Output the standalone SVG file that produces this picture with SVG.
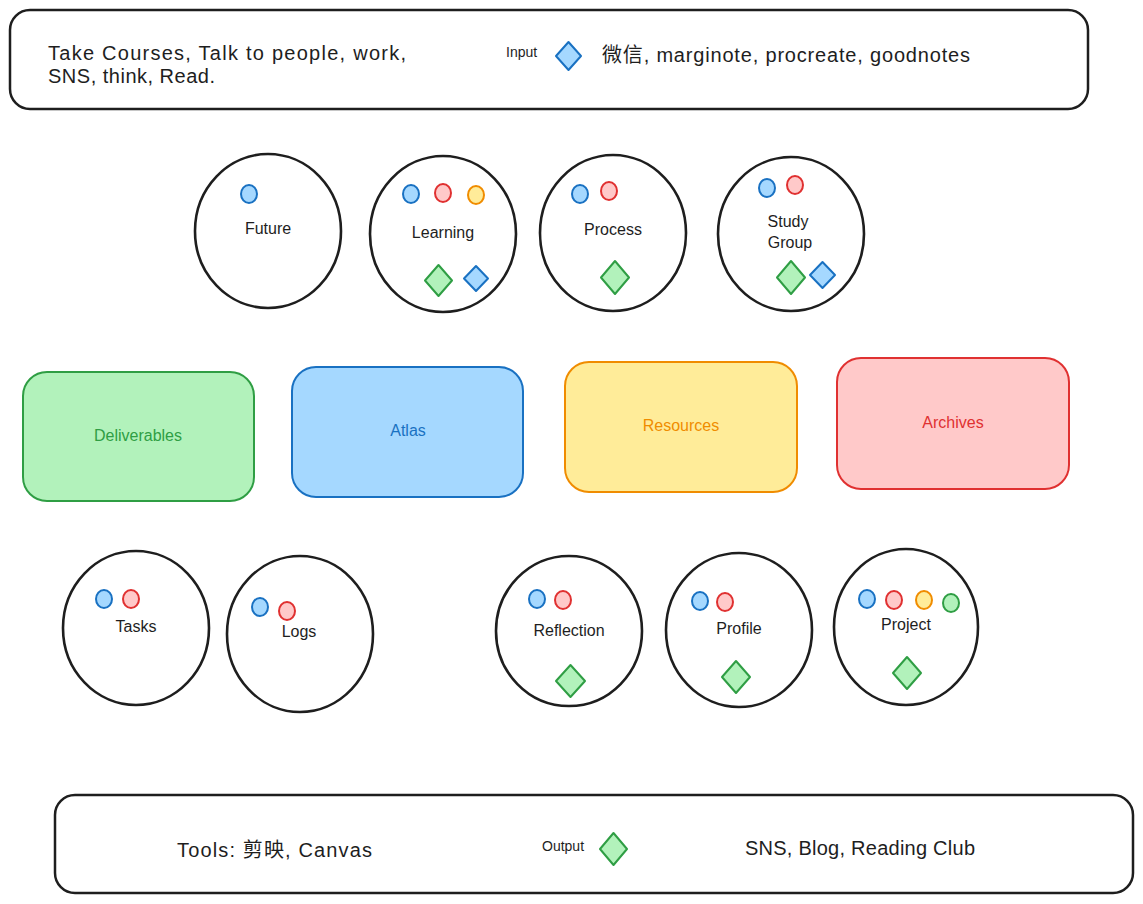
<svg xmlns="http://www.w3.org/2000/svg" width="1143" height="904" viewBox="0 0 1143 904">
<style>
.bg{fill:#ffffff}
.frame{fill:#ffffff;stroke:#1e1e1e;stroke-width:2.5}
.circ{fill:#ffffff;stroke:#1e1e1e;stroke-width:2.6}
.t{font-family:"Liberation Sans","Noto Sans CJK SC",sans-serif;fill:#1e1e1e}
.big{font-size:20px}
.lbl{font-size:16px;text-anchor:middle}
.sm{font-size:14px}
.rl{font-size:16px;text-anchor:middle}
.dB{fill:#a5d8ff;stroke:#1971c2;stroke-width:2}
.dR{fill:#ffc9c9;stroke:#e03131;stroke-width:2}
.dY{fill:#ffec99;stroke:#f08c00;stroke-width:2}
.dG{fill:#b2f2bb;stroke:#2f9e44;stroke-width:2}
.dia{stroke-linejoin:round}
</style>
<rect class="bg" x="0" y="0" width="1143" height="904"/>

<g id="input-bar">
<rect class="frame" x="10" y="10" width="1078" height="99" rx="20"/>
<text class="t big" x="48" y="60" textLength="358">Take Courses, Talk to people, work,</text>
<text class="t big" x="48" y="83" textLength="167">SNS, think, Read.</text>
<text class="t sm" x="506" y="57">Input</text>
<path class="dB dia" d="M568.5,42 L581,56 L568.5,70 L556,56 Z"/>
<text class="t big" x="602" y="62" textLength="368">微信, marginote, procreate, goodnotes</text>
</g>

<g id="future">
<ellipse class="circ" cx="268" cy="231" rx="73" ry="77"/>
<ellipse class="dB" cx="249" cy="194" rx="8" ry="9"/>
<text class="t lbl" x="268" y="234">Future</text>
</g>

<g id="learning">
<ellipse class="circ" cx="443" cy="234" rx="73" ry="78"/>
<ellipse class="dB" cx="411" cy="194" rx="8" ry="9"/>
<ellipse class="dR" cx="443" cy="193" rx="8" ry="9"/>
<ellipse class="dY" cx="476" cy="195" rx="8" ry="9"/>
<text class="t lbl" x="443" y="238">Learning</text>
<path class="dG dia" d="M438.5,265 L452,280.5 L438.5,296 L425,280.5 Z"/>
<path class="dB dia" d="M476,266 L488,278.5 L476,291 L464,278.5 Z"/>
</g>

<g id="process">
<ellipse class="circ" cx="613" cy="233" rx="73" ry="78"/>
<ellipse class="dB" cx="580" cy="194" rx="8" ry="9"/>
<ellipse class="dR" cx="609" cy="191" rx="8" ry="9"/>
<text class="t lbl" x="613" y="235">Process</text>
<path class="dG dia" d="M615,261 L629,277.5 L615,294 L601,277.5 Z"/>
</g>

<g id="study-group">
<ellipse class="circ" cx="791" cy="234" rx="73" ry="77"/>
<ellipse class="dB" cx="767" cy="188" rx="8" ry="9"/>
<ellipse class="dR" cx="795" cy="185" rx="8" ry="9"/>
<text class="t lbl" x="788" y="227">Study</text>
<text class="t lbl" x="790" y="248">Group</text>
<path class="dG dia" d="M791,261 L805,277.5 L791,294 L777,277.5 Z"/>
<path class="dB dia" d="M822.5,262 L835,275 L822.5,288 L810,275 Z"/>
</g>

<g id="deliverables">
<rect class="dG" x="23" y="372" width="231" height="129" rx="24" stroke-width="2.5"/>
<text class="t rl" x="138" y="441" style="fill:#2f9e44">Deliverables</text>
</g>

<g id="atlas">
<rect class="dB" x="292" y="367" width="231" height="130" rx="24" stroke-width="2.5"/>
<text class="t rl" x="408" y="436" style="fill:#1971c2">Atlas</text>
</g>

<g id="resources">
<rect class="dY" x="565" y="362" width="232" height="130" rx="24" stroke-width="2.5"/>
<text class="t rl" x="681" y="431" style="fill:#f08c00">Resources</text>
</g>

<g id="archives">
<rect class="dR" x="837" y="358" width="232" height="131" rx="24" stroke-width="2.5"/>
<text class="t rl" x="953" y="428" style="fill:#e03131">Archives</text>
</g>

<g id="tasks">
<ellipse class="circ" cx="136" cy="628" rx="73" ry="77"/>
<ellipse class="dB" cx="104" cy="599" rx="8" ry="9"/>
<ellipse class="dR" cx="131" cy="599" rx="8" ry="9"/>
<text class="t lbl" x="136" y="632">Tasks</text>
</g>

<g id="logs">
<ellipse class="circ" cx="300" cy="634" rx="73" ry="78"/>
<ellipse class="dB" cx="260" cy="607" rx="8" ry="9"/>
<ellipse class="dR" cx="287" cy="611" rx="8" ry="9"/>
<text class="t lbl" x="299" y="637">Logs</text>
</g>

<g id="reflection">
<ellipse class="circ" cx="569" cy="631" rx="73" ry="75"/>
<ellipse class="dB" cx="537" cy="599" rx="8" ry="9"/>
<ellipse class="dR" cx="563" cy="600" rx="8" ry="9"/>
<text class="t lbl" x="569" y="636">Reflection</text>
<path class="dG dia" d="M570.5,665 L585,681 L570.5,697 L556,681 Z"/>
</g>

<g id="profile">
<ellipse class="circ" cx="739" cy="630" rx="73" ry="77"/>
<ellipse class="dB" cx="700" cy="601" rx="8" ry="9"/>
<ellipse class="dR" cx="725" cy="602" rx="8" ry="9"/>
<text class="t lbl" x="739" y="634">Profile</text>
<path class="dG dia" d="M736,661 L750,677 L736,693 L722,677 Z"/>
</g>

<g id="project">
<ellipse class="circ" cx="906" cy="627" rx="72" ry="78"/>
<ellipse class="dB" cx="867" cy="599" rx="8" ry="9"/>
<ellipse class="dR" cx="894" cy="600" rx="8" ry="9"/>
<ellipse class="dY" cx="924" cy="600" rx="8" ry="9"/>
<ellipse class="dG" cx="951" cy="603" rx="8" ry="9"/>
<text class="t lbl" x="906" y="630">Project</text>
<path class="dG dia" d="M907,657 L921,673 L907,689 L893,673 Z"/>
</g>

<g id="output-bar">
<rect class="frame" x="55" y="795" width="1078" height="98" rx="20"/>
<text class="t big" x="177" y="857" textLength="195">Tools: 剪映, Canvas</text>
<text class="t sm" x="542" y="851">Output</text>
<path class="dG dia" d="M613.5,833 L627,849 L613.5,865 L600,849 Z"/>
<text class="t big" x="745" y="855" textLength="230">SNS, Blog, Reading Club</text>
</g>

<g id="connectors"></g>
</svg>
